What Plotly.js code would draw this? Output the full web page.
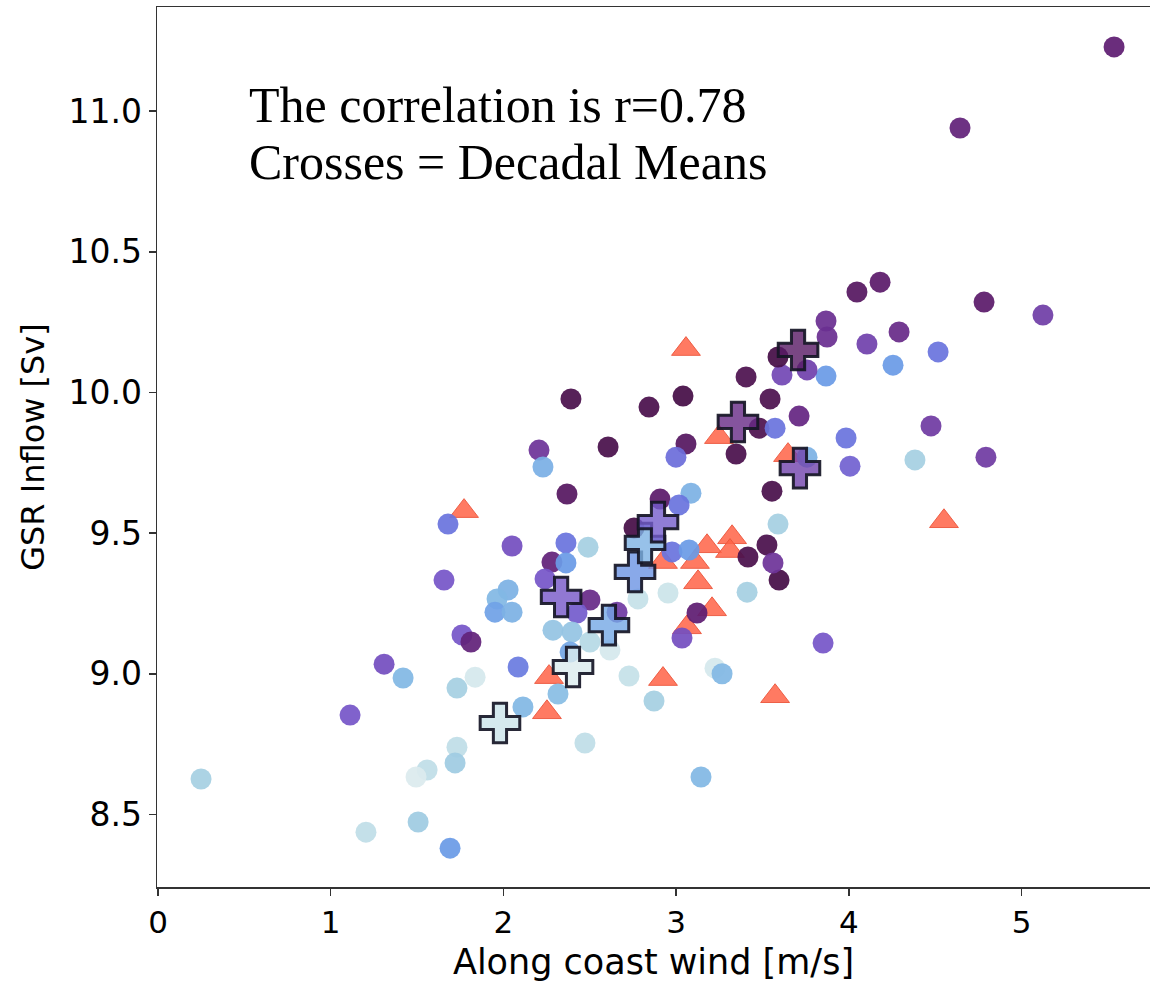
<!DOCTYPE html>
<html>
<head>
<meta charset="utf-8">
<script src="https://cdn.plot.ly/plotly-3.0.1.min.js"></script>
<style>html,body{margin:0;padding:0;background:#fff;}#chart{width:1150px;height:982px;}</style>
</head>
<body>
<div id="chart"></div>
<script>
// Yearly values (circles): along-coast wind [m/s], GSR inflow [Sv], colour shade (0 = earliest, 1 = latest)
const circleWind = [5.536,4.644,4.047,4.181,4.783,5.124,3.868,3.874,4.105,4.291,4.517,4.256,3.868,3.758,3.712,4.476,3.984,4.007,4.383,4.794,3.758,3.851,
  2.391,2.843,3.040,2.206,2.229,2.606,3.057,2.999,3.347,3.480,3.573,3.544,3.405,3.613,3.590,3.555,2.368,3.086,2.907,3.017,2.756,3.590,1.679,
  2.050,2.362,2.490,2.281,2.362,2.241,2.501,2.426,2.658,2.027,1.963,1.951,2.050,2.287,2.397,2.501,2.617,2.386,2.085,1.836,2.727,2.316,2.113,2.872,2.472,
  2.953,2.779,3.411,3.596,3.416,3.526,3.561,3.121,3.034,2.976,3.075,3.144,3.225,3.266,
  1.656,1.760,1.812,1.309,1.419,1.731,1.112,1.731,1.720,1.558,1.494,0.249,1.204,1.506,1.691];
const circleInflow = [11.228,10.940,10.357,10.392,10.321,10.275,10.254,10.197,10.172,10.215,10.144,10.097,10.058,10.080,9.916,9.881,9.838,9.738,9.760,9.770,9.770,9.109,
  9.977,9.948,9.987,9.795,9.735,9.806,9.817,9.770,9.781,9.873,9.873,9.977,10.055,10.062,10.126,9.649,9.639,9.642,9.621,9.600,9.518,9.532,9.532,
  9.454,9.465,9.450,9.397,9.394,9.337,9.262,9.216,9.219,9.298,9.266,9.219,9.219,9.155,9.148,9.113,9.084,9.077,9.024,8.988,8.992,8.928,8.882,8.903,8.754,
  9.287,9.266,9.290,9.333,9.415,9.458,9.394,9.216,9.127,9.433,9.440,8.633,9.020,9.000,
  9.333,9.138,9.113,9.034,8.985,8.949,8.853,8.739,8.683,8.658,8.633,8.626,8.437,8.473,8.380];
const circleShade = [0.80,0.78,0.85,0.82,0.82,0.67,0.72,0.72,0.66,0.74,0.50,0.40,0.40,0.66,0.76,0.68,0.50,0.56,0.20,0.68,0.32,0.60,
  0.92,0.92,0.95,0.70,0.33,0.93,0.85,0.52,0.92,0.90,0.50,0.90,0.90,0.64,0.95,0.93,0.85,0.32,0.82,0.50,0.95,0.20,0.50,
  0.62,0.50,0.20,0.78,0.40,0.60,0.74,0.58,0.68,0.32,0.30,0.38,0.32,0.25,0.25,0.15,0.05,0.36,0.48,0.05,0.10,0.28,0.30,0.20,0.12,
  0.08,0.10,0.20,0.95,0.92,0.92,0.70,0.80,0.62,0.50,0.40,0.30,0.05,0.30,
  0.60,0.60,0.78,0.62,0.30,0.20,0.60,0.12,0.22,0.12,0.03,0.20,0.12,0.22,0.40];

// Triangles
const triWind = [1.772,3.057,3.248,3.648,4.551,3.179,3.324,3.312,3.109,3.127,2.924,3.208,3.063,2.264,2.252,2.924,3.573];
const triInflow = [9.578,10.154,9.841,9.777,9.542,9.453,9.485,9.436,9.397,9.325,9.397,9.229,9.165,8.988,8.863,8.981,8.920];

// Decadal means (crosses)
const crossWind = [1.980,2.403,2.611,2.334,2.762,2.820,2.895,3.717,3.358,3.706];
const crossInflow = [8.825,9.024,9.173,9.273,9.362,9.465,9.539,9.731,9.895,10.151];
const crossShade = [0.08,0.03,0.36,0.60,0.42,0.32,0.58,0.66,0.75,0.84];

const xTicks = [0,1,2,3,4,5];
const yTicks = [8.5,9.0,9.5,10.0,10.5,11.0];
const yTickText = ['8.5','9.0','9.5','10.0','10.5','11.0'];

const stops = [
  [0.00,[228,239,241]],[0.10,[197,225,232]],[0.20,[166,208,226]],[0.30,[130,184,228]],
  [0.40,[107,155,230]],[0.50,[107,116,222]],[0.60,[118,86,200]],[0.70,[110,52,153]],
  [0.80,[95,29,114]],[0.90,[77,18,80]],[1.00,[63,10,62]]];
function scale(alpha){return stops.map(s=>[s[0],'rgba('+s[1].join(',')+','+alpha+')']);}

const traces = [
  {type:'scatter',mode:'markers',x:triWind,y:triInflow,hoverinfo:'x+y',
   marker:{symbol:'triangle-up',size:25,color:'rgba(255,99,71,0.85)',line:{color:'rgba(235,85,60,0.9)',width:1}}},
  {type:'scatter',mode:'markers',x:circleWind,y:circleInflow,hoverinfo:'x+y',
   marker:{symbol:'circle',size:21,color:circleShade,cmin:0,cmax:1,colorscale:scale(0.93),showscale:false,line:{width:0}}},
  {type:'scatter',mode:'markers',x:crossWind,y:crossInflow,hoverinfo:'x+y',
   marker:{symbol:'cross',size:33,color:crossShade,cmin:0,cmax:1,colorscale:scale(0.8),showscale:false,
   line:{color:'rgba(22,22,38,0.92)',width:3}}}
];

const axisCommon = {showgrid:false,zeroline:false,showline:true,linecolor:'#333',linewidth:1.5,
  ticks:'outside',ticklen:7,tickwidth:1.5,tickcolor:'#333'};

const layout = {
  width:1150,height:982,showlegend:false,
  paper_bgcolor:'#fff',plot_bgcolor:'#fff',
  margin:{l:157,r:0,t:7,b:95},
  xaxis:Object.assign({},axisCommon,{range:[-0.006,5.744],tickvals:xTicks,ticktext:xTicks.map(String),
    mirror:true,tickfont:{family:'DejaVu Sans',size:31,color:'#000'},
    title:{text:'Along coast wind [m/s]',font:{family:'DejaVu Sans',size:35,color:'#000'},standoff:27}}),
  yaxis:Object.assign({},axisCommon,{range:[8.242,11.370],tickvals:yTicks,ticktext:yTickText,
    tickfont:{family:'DejaVu Sans',size:33,color:'#000'},
    title:{text:'GSR Inflow [Sv]',font:{family:'DejaVu Sans',size:32,color:'#000'},standoff:14}}),
  annotations:[
    {xref:'paper',yref:'paper',x:0.0906,y:0.889,xanchor:'left',yanchor:'middle',showarrow:false,
     text:'The correlation is r=0.78',font:{family:'Liberation Serif',size:50,color:'#000'}},
    {xref:'paper',yref:'paper',x:0.0906,y:0.8235,xanchor:'left',yanchor:'middle',showarrow:false,
     text:'Crosses = Decadal Means',font:{family:'Liberation Serif',size:50,color:'#000'}}
  ]
};

Plotly.newPlot('chart',traces,layout,{displayModeBar:false,staticPlot:true});
</script>
</body>
</html>
